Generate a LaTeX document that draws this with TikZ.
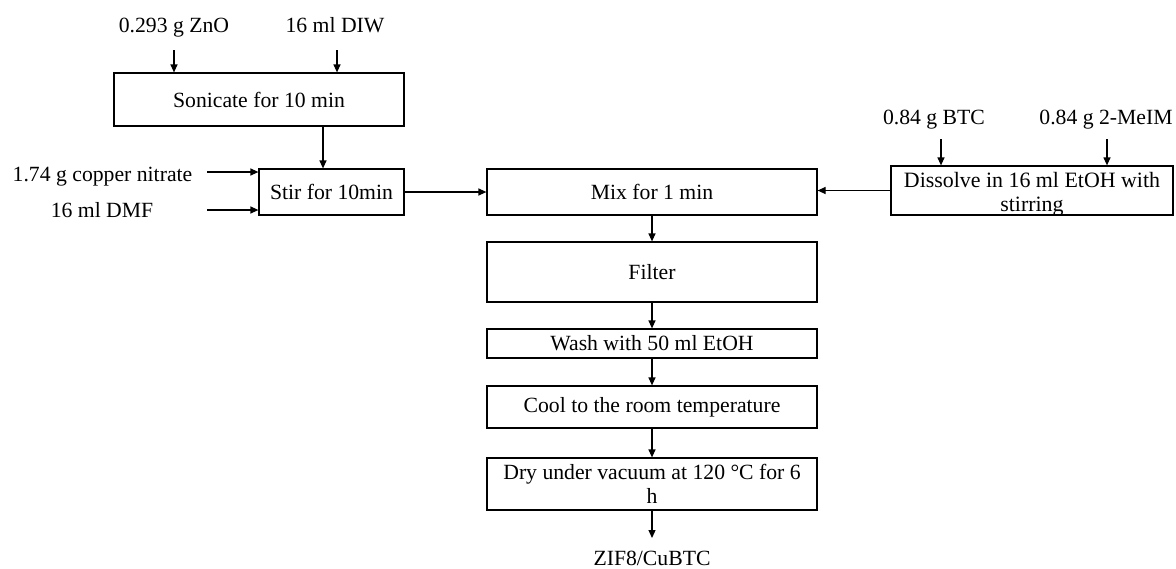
\documentclass[tikz,border=0pt]{standalone}
\usepackage{fontspec}
\setmainfont{Liberation Serif}
\usetikzlibrary{arrows.meta}
\begin{document}
\begin{tikzpicture}[x=1pt,y=-1pt,
  every node/.style={font=\fontsize{21.7}{25}\selectfont},
  box/.style={draw,line width=1.2pt,inner sep=0pt,align=center},
  lbl/.style={anchor=base,inner sep=0pt},
  arr/.style={line width=1.2pt,-{Triangle[length=8pt,width=7pt]}}]
\useasboundingbox (0,0) rectangle (1176,568);
% boxes
\node[box,minimum width=290pt,minimum height=53pt] (son) at (259,99.5) {Sonicate for 10 min};
\node[box,minimum width=145pt,minimum height=46pt] (stir) at (331.5,192) {Stir for 10min};
\node[box,minimum width=330pt,minimum height=46pt] (mix) at (652,192) {Mix for 1 min};
\node[box,minimum width=330pt,minimum height=60pt] (filt) at (652,272) {Filter};
\node[box,minimum width=330pt,minimum height=29pt] (wash) at (652,343.5) {Wash with 50 ml EtOH};
\node[box,minimum width=330pt,minimum height=42pt] (cool) at (652,407) {Cool to the room temperature};
\node[box,minimum width=330pt,minimum height=52pt] (dry) at (652,484) {Dry under vacuum at 120 °C for 6\\[-1pt]h};
\node[box,minimum width=282pt,minimum height=49pt] (diss) at (1032,190.5)
  {\parbox[c][49pt][t]{282pt}{\centering\fontsize{21.9}{24.5}\selectfont\rule{0pt}{21pt}Dissolve in 16 ml EtOH with\\stirring}};
% labels
\node[lbl] (zno) at (174,32) {0.293 g ZnO};
\node[lbl] (diw) at (335,32) {16 ml DIW};
\node[lbl] (btc) at (934,124) {0.84 g BTC};
\node[lbl] (meim) at (1106,124) {0.84 g 2-MeIM};
\node[lbl] (cu) at (102.5,181) {1.74 g copper nitrate};
\node[lbl] (dmf) at (102,217) {16 ml DMF};
\node[lbl] (zif) at (652,565) {ZIF8/CuBTC};
\coordinate (cuE) at (207,172);
\coordinate (dmfE) at (207,210);
% connectors
\draw[arr] ([yshift=-18pt]zno.base) -- (zno.base |- son.north);
\draw[arr] ([xshift=2pt,yshift=-18pt]diw.base) -- ([xshift=2pt]diw.base |- son.north);
\draw[arr] ([xshift=64pt]son.south) -- ([xshift=64pt]son.south |- stir.north);
\draw[arr] (cuE) -- (stir.west |- cuE);
\draw[arr] (dmfE) -- (stir.west |- dmfE);
\draw[arr] (stir.east) -- (mix.west);
\draw[arr] ([xshift=7pt,yshift=-15pt]btc.base) -- ([xshift=7pt]btc.base |- diss.north);
\draw[arr] ([xshift=1pt,yshift=-15pt]meim.base) -- ([xshift=1pt]meim.base |- diss.north);
\draw[arr] (diss.west) -- (diss.west -| mix.east);
\draw[arr] (mix) -- (filt);
\draw[arr] (filt) -- (wash);
\draw[arr] (wash) -- (cool);
\draw[arr] (cool) -- (dry);
\draw[arr] (dry.south) -- ([yshift=27pt]zif.base);
\end{tikzpicture}
\end{document}
